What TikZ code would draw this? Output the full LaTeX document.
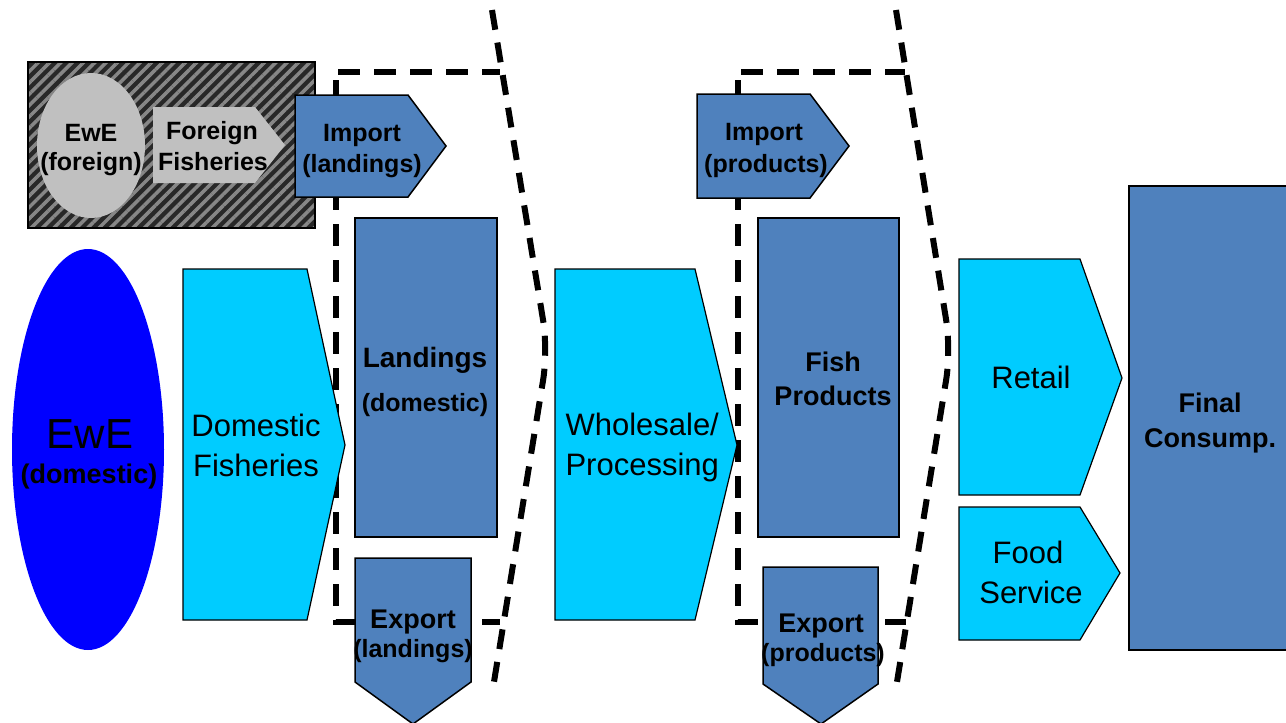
\documentclass[tikz,border=0pt]{standalone}
\usepackage{fontspec}
\setmainfont{Liberation Sans}
\usetikzlibrary{patterns.meta}
\definecolor{steel}{RGB}{79,129,189}
\definecolor{cyanf}{RGB}{0,204,255}
\definecolor{ewe}{RGB}{0,0,255}
\definecolor{lgray}{RGB}{192,192,192}
\definecolor{hatchdark}{RGB}{40,40,40}
\definecolor{hatchlight}{RGB}{135,135,135}
\begin{document}
\begin{tikzpicture}[x=1pt,y=-1pt,
  frame/.style={line width=6pt, dash pattern=on 22pt off 14pt},
  curveline/.style={line width=6pt, dash pattern=on 20pt off 13pt, rounded corners=30pt},
  boxblue/.style={fill=steel, draw=black, line width=1.5pt},
  boxcyan/.style={fill=cyanf, draw=black, line width=1.2pt},
  bs/.style={font=\fontsize{25}{25}\selectfont\bfseries, anchor=base},
  bm/.style={font=\fontsize{27}{27}\selectfont\bfseries, anchor=base},
  rg/.style={font=\fontsize{31}{31}\selectfont, anchor=base}]
\useasboundingbox (0,0) rectangle (1286,723);

% foreign block
\fill[hatchdark] (28,62) rectangle (315,228);
\fill[pattern={Lines[angle=45,distance=8pt,line width=3.5pt]}, pattern color=hatchlight] (28,62) rectangle (315,228);
\draw[line width=1.5pt] (28,62) rectangle (315,228);
\fill[lgray] (91,145.5) ellipse [x radius=54pt, y radius=72.5pt];
\fill[lgray] (153,107) -- (255,107) -- (285,145) -- (255,183) -- (153,183) -- cycle;

% dashed frames
\draw[frame] (338,72) -- (500,72);
\draw[frame] (336,80) -- (336,622) -- (356,622);
\draw[frame, dash pattern=] (482,622) -- (500,622);
\draw[curveline] (492,10) -- (548,350) -- (493,688);

\draw[frame] (741,72) -- (905,72);
\draw[frame] (738,80) -- (738,622) -- (764,622);
\draw[frame, dash pattern=] (885,622) -- (906,622);
\draw[curveline] (896,10) -- (951,350) -- (896,688);

% domestic chain
\fill[ewe] (88,449.5) ellipse [x radius=76pt, y radius=200.5pt];
\draw[boxcyan] (183,269) -- (307,269) -- (345,445) -- (307,620) -- (183,620) -- cycle;
\draw[boxblue] (295,95) -- (408,95) -- (446,146) -- (408,197) -- (295,197) -- cycle;
\draw[boxblue] (355,218) rectangle (497,537);
\draw[boxblue] (355,558) -- (471,558) -- (471,682) -- (413,724) -- (355,682) -- cycle;
\draw[boxcyan] (555,269) -- (695,269) -- (737,445) -- (695,620) -- (555,620) -- cycle;
\draw[boxblue] (697,94) -- (810,94) -- (849,146) -- (810,198) -- (697,198) -- cycle;
\draw[boxblue] (758,218) rectangle (899,537);
\draw[boxblue] (763,567) -- (878,567) -- (878,684) -- (821,724) -- (763,684) -- cycle;
\draw[boxcyan] (959,259) -- (1080,259) -- (1122,378) -- (1080,495) -- (959,495) -- cycle;
\draw[boxcyan] (959,507) -- (1080,507) -- (1120,573) -- (1080,640) -- (959,640) -- cycle;
\draw[boxblue] (1129,186) rectangle (1292,650);

% texts
\node[bs] (efa) at (91,141) {EwE};
\node[bs] (efb) at (91,170) {(foreign)};
\node[bs] (ffa) at (212,139) {Foreign};
\node[bs] (ffb) at (213,170) {Fisheries};
\node[bs] (ila) at (362,141) {Import};
\node[bs] (ilb) at (362,172) {(landings)};
\node[font=\fontsize{28}{28}\selectfont\bfseries, anchor=base] (lda) at (425,367) {Landings};
\node[bs] (ldb) at (425,411) {(domestic)};
\node[bm] (ela) at (413,628) {Export};
\node[bs] (elb) at (413,657) {(landings)};
\node[font=\fontsize{42}{42}\selectfont, anchor=base] (eda) at (90,448) {EwE};
\node[font=\fontsize{27}{27}\selectfont\bfseries, anchor=base] (edb) at (89,483) {(domestic)};
\node[rg] (dfa) at (256,436) {Domestic};
\node[rg] (dfb) at (256,476) {Fisheries};
\node[rg, anchor=base west] (wpa) at (562,435) {Wholesale/};
\node[rg, anchor=base west] (wpb) at (562,475) {Processing};
\node[bs] (ipa) at (764,140) {Import};
\node[bs] (ipb) at (766,172) {(products)};
\node[bm] (fpa) at (833,371) {Fish};
\node[bm] (fpb) at (833,405) {Products};
\node[bm] (epa) at (821,632) {Export};
\node[bs] (epb) at (823,661) {(products)};
\node[rg] (rt) at (1031,388) {Retail};
\node[rg] (fsa) at (1028,563) {Food};
\node[rg] (fsb) at (1031,603) {Service};
\node[bm] (fca) at (1210,412) {Final};
\node[bm] (fcb) at (1210,447) {Consump.};
\end{tikzpicture}
\end{document}
